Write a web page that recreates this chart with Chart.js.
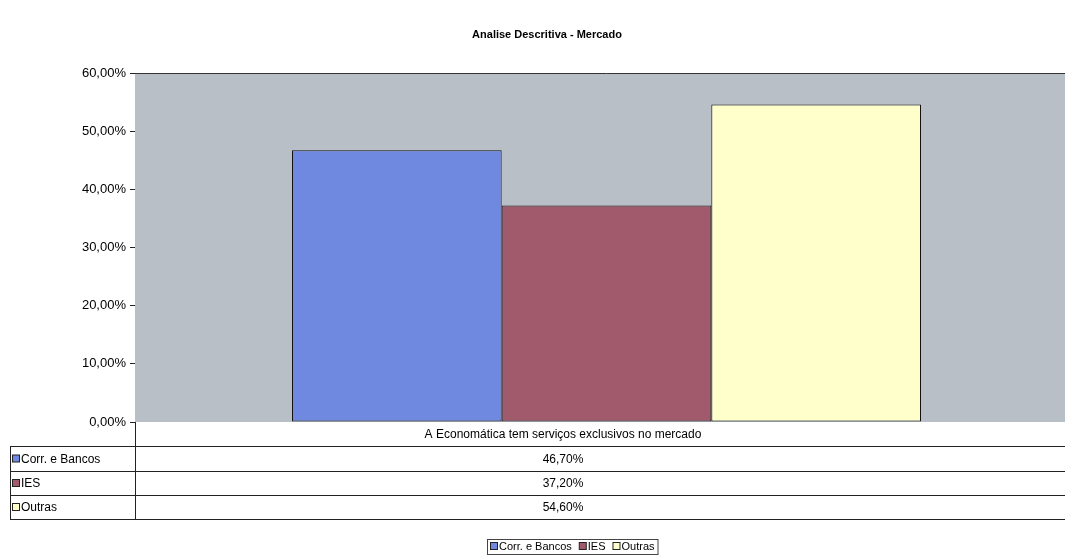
<!DOCTYPE html>
<html>
<head>
<meta charset="utf-8">
<script src="https://cdn.jsdelivr.net/npm/chart.js@4.4.0/dist/chart.umd.min.js"></script>
<style>
  html, body { margin: 0; padding: 0; background: #fff; overflow: hidden; }
  #wrap { width: 1080px; height: 556px; }
</style>
</head>
<body>
<div id="wrap"><canvas id="chart" width="1080" height="556"></canvas></div>
<script>
// --- dados ---
const titulo = 'Analise Descritiva - Mercado';
const categorias = ['A Economática tem serviços exclusivos no mercado'];
const series = ['Corr. e Bancos', 'IES', 'Outras'];
const corrBancos = [46.7];
const ies = [37.2];
const outras = [54.6];
const yTicks = [0, 10, 20, 30, 40, 50, 60];

const cores = ['#7089e0', '#a05a6c', '#ffffcc'];
const valores = [corrBancos, ies, outras];

const fmt = v => v.toFixed(2).replace('.', ',') + '%';
const FONT = '"Liberation Sans", Arial, sans-serif';

// fundo cinza + título + tabela de dados + legenda
const planilha = {
    id: 'planilha',
    beforeDatasetsDraw(chart) {
        const { ctx, chartArea: a } = chart;
        ctx.save();
        ctx.fillStyle = '#b9bfc6';
        ctx.fillRect(a.left, a.top, a.right - a.left, a.bottom - a.top);
        ctx.strokeStyle = '#333';
        ctx.lineWidth = 1;
        ctx.beginPath();
        ctx.moveTo(a.left, a.top + 0.5);
        ctx.lineTo(a.right, a.top + 0.5);
        ctx.stroke();
        ctx.restore();
    },
    afterDraw(chart) {
        const { ctx, chartArea: a } = chart;
        ctx.save();
        // título
        ctx.fillStyle = '#000';
        ctx.font = 'bold 11px ' + FONT;
        ctx.textAlign = 'center';
        ctx.textBaseline = 'middle';
        ctx.fillText(titulo, 547, 35);

        // tabela
        const left = 10, mid = a.left, right = a.right;
        const rows = [446, 471, 495, 519];
        const colCenter = 563;
        ctx.strokeStyle = '#222';
        ctx.lineWidth = 1;
        ctx.beginPath();
        ctx.moveTo(mid + 0.5, a.bottom);
        ctx.lineTo(mid + 0.5, rows[3]);
        ctx.moveTo(left + 0.5, rows[0]);
        ctx.lineTo(left + 0.5, rows[3]);
        rows.forEach(y => {
            ctx.moveTo(left, y + 0.5);
            ctx.lineTo(right, y + 0.5);
        });
        ctx.stroke();

        ctx.font = '12px ' + FONT;
        ctx.fillStyle = '#000';
        ctx.textAlign = 'center';
        ctx.fillText(categorias[0], colCenter, (a.bottom + rows[0]) / 2 + 1);
        series.forEach((s, i) => {
            const yc = (rows[i] + rows[i + 1]) / 2 + 1;
            ctx.textAlign = 'center';
            ctx.fillStyle = '#000';
            ctx.fillText(fmt(valores[i][0]), colCenter, yc);
            // marcador
            ctx.fillStyle = cores[i];
            ctx.fillRect(12.5, yc - 4.5, 7, 7);
            ctx.strokeStyle = '#222';
            ctx.strokeRect(12.5, yc - 4.5, 7, 7);
            ctx.fillStyle = '#000';
            ctx.textAlign = 'left';
            ctx.fillText(s, 21, yc);
        });

        // legenda
        ctx.font = '11px ' + FONT;
        const ly = 547;
        const startX = 487;
        let x = 490;
        ctx.textAlign = 'left';
        series.forEach((s, i) => {
            ctx.fillStyle = cores[i];
            ctx.fillRect(x + 0.5, ly - 4.5, 7, 7);
            ctx.strokeStyle = '#222';
            ctx.strokeRect(x + 0.5, ly - 4.5, 7, 7);
            ctx.fillStyle = '#000';
            ctx.fillText(s, x + 9, ly);
            x += 9 + ctx.measureText(s).width + 7;
        });
        ctx.strokeStyle = '#444';
        ctx.strokeRect(startX + 0.5, ly - 7.5, x - startX - 4, 15);
        ctx.restore();
    }
};

new Chart(document.getElementById('chart'), {
    type: 'bar',
    data: {
        labels: categorias,
        datasets: series.map((s, i) => ({
            label: s,
            data: valores[i],
            backgroundColor: cores[i],
            borderColor: '#111',
            borderWidth: 1,
            borderSkipped: false,
            categoryPercentage: 0.667,
            barPercentage: 1
        }))
    },
    options: {
        responsive: false,
        animation: false,
        layout: { padding: { top: 73, bottom: 134, left: 0, right: 2 } },
        plugins: {
            legend: { display: false },
            title: { display: false },
            tooltip: { enabled: false }
        },
        scales: {
            x: { display: false },
            y: {
                min: 0,
                max: 60,
                afterFit: s => { s.width = 135; },
                afterBuildTicks: s => { s.ticks = yTicks.map(v => ({ value: v })); },
                ticks: {
                    color: '#000',
                    font: { family: FONT, size: 13 },
                    padding: 4,
                    callback: v => fmt(v)
                },
                grid: {
                    drawOnChartArea: false,
                    drawTicks: true,
                    tickLength: 5,
                    color: '#222'
                },
                border: { display: true, color: '#222', width: 1 }
            }
        }
    },
    plugins: [planilha]
});
</script>
</body>
</html>
